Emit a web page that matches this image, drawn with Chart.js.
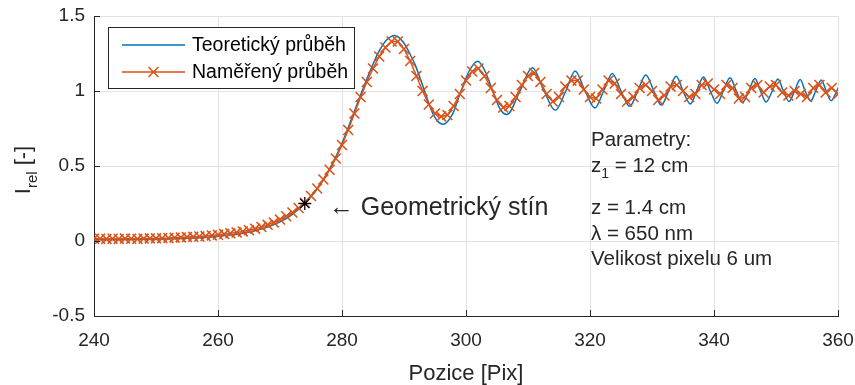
<!DOCTYPE html>
<html>
<head>
<meta charset="utf-8">
<script src="https://cdn.jsdelivr.net/npm/chart.js@4/dist/chart.umd.min.js"></script>
<style>
  html, body { margin: 0; padding: 0; background: #fff; }
  #wrap { width: 855px; height: 385px; }
</style>
</head>
<body>
<div id="wrap"><canvas id="chart" width="855" height="385"></canvas></div>
<script>
// theoretical Fresnel edge profile (key points, drawn with monotone spline)
const theoryX = [
  240, 244, 248, 252, 256, 259, 262, 264, 266, 268,
  270, 272, 274, 275.5, 277, 278.5, 280, 281.5, 282.9, 284.4,
  285.9, 287.2, 288.5, 289.8, 290.8, 291.9, 293.4, 294.8, 296.3, 297.8,
  299.2, 300.6, 301.9, 303.1, 304.3, 305.5, 306.6, 308.7, 310.7, 312.6,
  314.4, 316.1, 317.6, 319.2, 320.8, 322.2, 323.6, 325.0, 326.4, 327.7,
  329.0, 330.3, 331.5, 332.7, 333.9, 335.0, 336.2, 337.2, 338.3, 339.4,
  340.5, 341.5, 342.6, 343.6, 344.6, 345.6, 346.6, 347.5, 348.4, 349.4,
  350.3, 351.2, 352.1, 353.0, 353.9, 354.7, 355.6, 356.4, 357.3, 358.1,
  358.9, 359.8, 360.6
];
const theoryY = [
  0.008, 0.009, 0.011, 0.014, 0.020, 0.027, 0.040, 0.052, 0.069, 0.093,
  0.127, 0.178, 0.250, 0.320, 0.410, 0.520, 0.652, 0.810, 0.963, 1.120,
  1.259, 1.340, 1.370, 1.330, 1.260, 1.164, 0.990, 0.838, 0.778, 0.844,
  1.000, 1.140, 1.199, 1.130, 1.000, 0.880, 0.843, 1.000, 1.155, 1.000,
  0.871, 1.000, 1.134, 1.000, 0.887, 1.000, 1.117, 1.000, 0.898, 1.000,
  1.107, 1.000, 0.906, 1.000, 1.099, 1.000, 0.913, 1.000, 1.093, 1.000,
  0.918, 1.000, 1.088, 1.000, 0.923, 1.000, 1.083, 1.000, 0.927, 1.000,
  1.080, 1.000, 0.930, 1.000, 1.077, 1.000, 0.933, 1.000, 1.074, 1.000,
  0.935, 1.000, 1.072
];

// measured profile, one sample per camera pixel
const measX = [
  240, 241, 242, 243, 244, 245, 246, 247, 248, 249,
  250, 251, 252, 253, 254, 255, 256, 257, 258, 259,
  260, 261, 262, 263, 264, 265, 266, 267, 268, 269,
  270, 271, 272, 273, 274, 275, 276, 277, 278, 279,
  280, 281, 282, 283, 284, 285, 286, 287, 288, 289,
  290, 291, 292, 293, 294, 295, 296, 297, 298, 299,
  300, 301, 302, 303, 304, 305, 306, 307, 308, 309,
  310, 311, 312, 313, 314, 315, 316, 317, 318, 319,
  320, 321, 322, 323, 324, 325, 326, 327, 328, 329,
  330, 331, 332, 333, 334, 335, 336, 337, 338, 339,
  340, 341, 342, 343, 344, 345, 346, 347, 348, 349,
  350, 351, 352, 353, 354, 355, 356, 357, 358, 359,
  360
];
const measY = [
  0.015, 0.015, 0.014, 0.015, 0.014, 0.016, 0.015, 0.014, 0.016, 0.017,
  0.018, 0.019, 0.020, 0.022, 0.024, 0.026, 0.028, 0.030, 0.033, 0.037,
  0.041, 0.046, 0.051, 0.057, 0.064, 0.072, 0.082, 0.094, 0.108, 0.124,
  0.143, 0.165, 0.190, 0.220, 0.255, 0.300, 0.350, 0.410, 0.475, 0.550,
  0.640, 0.740, 0.850, 0.960, 1.060, 1.150, 1.230, 1.290, 1.330, 1.330,
  1.280, 1.200, 1.100, 1.000, 0.910, 0.850, 0.830, 0.840, 0.900, 0.980,
  1.070, 1.130, 1.150, 1.100, 1.020, 0.940, 0.890, 0.900, 0.960, 1.040,
  1.100, 1.120, 1.060, 0.980, 0.930, 0.960, 1.030, 1.070, 1.070, 1.010,
  0.960, 0.950, 1.010, 1.070, 1.050, 0.980, 0.930, 0.960, 1.020, 1.040,
  1.000, 0.940, 0.970, 1.030, 1.040, 1.000, 0.960, 0.980, 1.040, 1.050,
  1.010, 0.980, 1.040, 1.020, 0.950, 0.960, 1.020, 1.040, 0.990, 1.030,
  1.040, 0.990, 0.970, 1.000, 0.980, 0.960, 1.020, 1.040, 0.990, 1.020,
  0.980
];

// geometric shadow edge
const shadowX = [274];
const shadowY = [0.25];

const xTicks = [240, 260, 280, 300, 320, 340, 360];
const yTicks = [-0.5, 0, 0.5, 1, 1.5];

const seriesNames = ["Teoretický průběh", "Naměřený průběh"];
const shadowLabel = "Geometrický stín";
const paramLines = ["Parametry:", "z = 1.4 cm", "λ = 650 nm", "Velikost pixelu 6 um"];

const BLUE = "#0072BD";
const ORANGE = "#D95319";
const INK = "#262626";
const FONT = '"Liberation Sans", Arial, Helvetica, sans-serif';

function toPoints(xs, ys) {
  return xs.map((x, i) => ({ x: x, y: ys[i] }));
}

// draws text with a subscript part, returns end x
function drawSub(ctx, x, y, base, sub, size) {
  ctx.font = size + "px " + FONT;
  ctx.fillText(base, x, y);
  x += ctx.measureText(base).width;
  ctx.font = Math.round(size * 0.7) + "px " + FONT;
  ctx.fillText(sub, x, y + size * 0.3);
  return x + ctx.measureText(sub).width;
}

const decorations = {
  id: "decorations",
  afterDraw(chart) {
    const { ctx, chartArea: a, scales } = chart;
    const sx = scales.x, sy = scales.y;
    ctx.save();

    // inward tick marks
    ctx.strokeStyle = INK;
    ctx.lineWidth = 1;
    ctx.beginPath();
    xTicks.forEach(v => {
      const px = Math.round(sx.getPixelForValue(v)) + 0.5;
      ctx.moveTo(px, a.bottom);
      ctx.lineTo(px, a.bottom - 6);
    });
    yTicks.forEach(v => {
      const py = Math.round(sy.getPixelForValue(v)) + 0.5;
      ctx.moveTo(a.left, py);
      ctx.lineTo(a.left + 6, py);
    });
    ctx.stroke();

    ctx.fillStyle = INK;
    ctx.textBaseline = "alphabetic";

    // x axis title
    ctx.font = "22px " + FONT;
    ctx.textAlign = "center";
    ctx.fillText("Pozice [Pix]", (a.left + a.right) / 2, 380);

    // y axis title with subscript
    ctx.save();
    ctx.translate(30, 170);
    ctx.rotate(-Math.PI / 2);
    ctx.textAlign = "left";
    ctx.font = "22px " + FONT;
    const w1 = ctx.measureText("I").width;
    ctx.font = "15px " + FONT;
    const w2 = ctx.measureText("rel").width;
    ctx.font = "22px " + FONT;
    const w3 = ctx.measureText(" [-]").width;
    let tx = -(w1 + w2 + w3) / 2;
    tx = drawSub(ctx, tx, 0, "I", "rel", 22);
    ctx.font = "22px " + FONT;
    ctx.fillText(" [-]", tx, 0);
    ctx.restore();

    // shadow annotation
    ctx.textAlign = "left";
    ctx.font = "25px " + FONT;
    const ax = sx.getPixelForValue(shadowX[0]);
    const ay = sy.getPixelForValue(shadowY[0]);
    ctx.fillText("\u2190 " + shadowLabel, ax + 24, ay + 11);

    // parameters block
    const px0 = 591;
    const fs = 20.5;
    ctx.font = fs + "px " + FONT;
    ctx.fillText(paramLines[0], px0, 146);
    const zEnd = drawSub(ctx, px0, 172, "z", "1", fs);
    ctx.font = fs + "px " + FONT;
    ctx.fillText(" = 12 cm", zEnd, 172);
    ctx.fillText(paramLines[1], px0, 214);
    ctx.fillText(paramLines[2], px0, 240);
    ctx.fillText(paramLines[3], px0, 265);

    // legend box
    const lx = 108.5, ly = 27.5, lw = 246, lh = 61;
    ctx.fillStyle = "#fff";
    ctx.fillRect(lx, ly, lw, lh);
    ctx.strokeStyle = INK;
    ctx.lineWidth = 1;
    ctx.strokeRect(lx, ly, lw, lh);

    const rows = [45, 72];
    ctx.lineWidth = 1.5;
    ctx.strokeStyle = BLUE;
    ctx.beginPath();
    ctx.moveTo(122, rows[0]);
    ctx.lineTo(185, rows[0]);
    ctx.stroke();
    ctx.strokeStyle = ORANGE;
    ctx.beginPath();
    ctx.moveTo(122, rows[1]);
    ctx.lineTo(185, rows[1]);
    ctx.moveTo(148.5, rows[1] - 5);
    ctx.lineTo(158.5, rows[1] + 5);
    ctx.moveTo(158.5, rows[1] - 5);
    ctx.lineTo(148.5, rows[1] + 5);
    ctx.stroke();

    ctx.fillStyle = "#000";
    ctx.font = "19.5px " + FONT;
    ctx.textBaseline = "middle";
    ctx.fillText(seriesNames[0], 192, rows[0] + 1);
    ctx.fillText(seriesNames[1], 192, rows[1] + 1);

    ctx.restore();
  }
};

new Chart(document.getElementById("chart"), {
  type: "scatter",
  data: {
    datasets: [
      {
        label: shadowLabel,
        data: toPoints(shadowX, shadowY),
        showLine: false,
        pointStyle: "star",
        pointRadius: 6.5,
        borderColor: "#000",
        backgroundColor: "#000",
        borderWidth: 1.3
      },
      {
        label: seriesNames[1],
        data: toPoints(measX, measY),
        showLine: true,
        borderColor: ORANGE,
        backgroundColor: ORANGE,
        borderWidth: 1.5,
        pointStyle: "crossRot",
        pointRadius: 7,
        pointBorderWidth: 1.6,
        tension: 0
      },
      {
        label: seriesNames[0],
        data: toPoints(theoryX, theoryY),
        showLine: true,
        borderColor: BLUE,
        borderWidth: 1.5,
        pointRadius: 0,
        cubicInterpolationMode: "monotone"
      }
    ]
  },
  options: {
    responsive: false,
    animation: false,
    devicePixelRatio: 1,
    layout: { padding: { top: 16, right: 17, left: 0, bottom: 0 } },
    plugins: {
      legend: { display: false },
      tooltip: { enabled: false }
    },
    scales: {
      x: {
        type: "linear",
        min: 240,
        max: 360,
        afterFit: s => { s.height = 69; s.paddingLeft = 0; s.paddingRight = 0; },
        afterBuildTicks: s => { s.ticks = xTicks.map(v => ({ value: v })); },
        ticks: { color: INK, font: { family: FONT, size: 19 }, padding: 13, maxRotation: 0, callback: v => String(v) },
        grid: { color: "#e2e2e2", drawTicks: false },
        border: { color: INK, width: 1 }
      },
      y: {
        min: -0.5,
        max: 1.5,
        afterFit: s => { s.width = 94; s.paddingTop = 0; s.paddingBottom = 0; },
        afterBuildTicks: s => { s.ticks = yTicks.map(v => ({ value: v })); },
        ticks: { color: INK, font: { family: FONT, size: 19 }, padding: 9, callback: v => String(v) },
        grid: { color: "#e2e2e2", drawTicks: false },
        border: { color: INK, width: 1 }
      }
    }
  },
  plugins: [decorations]
});
</script>
</body>
</html>
